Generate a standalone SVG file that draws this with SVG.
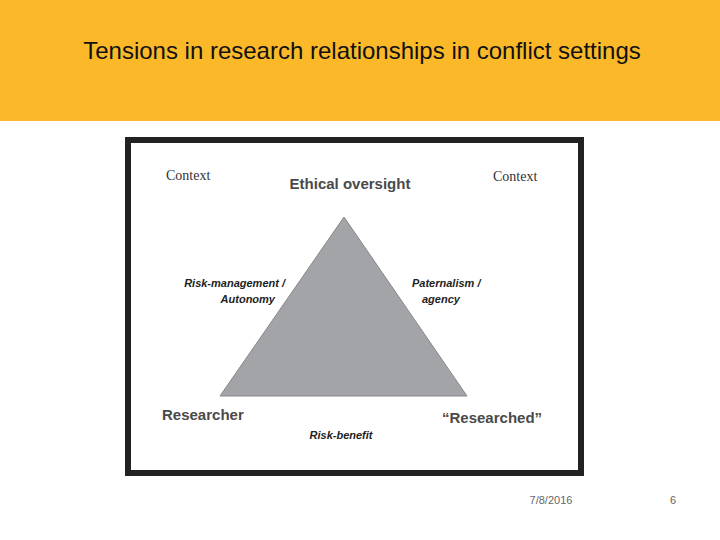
<svg xmlns="http://www.w3.org/2000/svg" width="720" height="540" viewBox="0 0 720 540">
<style>
.b{font-family:"Liberation Sans",Arial,sans-serif;font-weight:bold;fill:#4a4a4a}
.i{font-family:"Liberation Sans",Arial,sans-serif;font-weight:bold;font-style:italic;font-size:11px;fill:#222}
.c{font-family:"Liberation Serif","Times New Roman",serif;font-size:14px;fill:#333}
</style>
<rect width="720" height="540" fill="#fff"/>
<rect width="720" height="121" fill="#fbb929"/>
<text x="362" y="59" text-anchor="middle" font-family="Liberation Sans,Arial,sans-serif" font-size="24" fill="#111">Tensions in research relationships in conflict settings</text>
<rect x="128" y="140" width="453" height="333" fill="#fff" stroke="#222" stroke-width="6"/>
<g id="triangle"><polygon points="344,217 220,396 467,396" fill="#a3a4a8" stroke="#888" stroke-width="1"/></g>
<g id="labels">
<text class="c" x="166" y="180">Context</text>
<text class="c" x="493" y="181">Context</text>
<text class="b" x="350" y="189" font-size="15" text-anchor="middle">Ethical oversight</text>
<text class="b" x="162" y="420" font-size="15">Researcher</text>
<text class="b" x="442" y="423" font-size="15">“Researched”</text>
<text class="i" x="285" y="287" text-anchor="end">Risk-management /</text>
<text class="i" x="275" y="303" text-anchor="end">Autonomy</text>
<text class="i" x="412" y="287">Paternalism /</text>
<text class="i" x="422" y="303">agency</text>
<text class="i" x="341" y="439" text-anchor="middle">Risk-benefit</text>
</g>
<text x="551" y="504" text-anchor="middle" font-family="Liberation Sans,Arial,sans-serif" font-size="11" fill="#666">7/8/2016</text>
<text x="673" y="504" text-anchor="middle" font-family="Liberation Sans,Arial,sans-serif" font-size="11" fill="#666">6</text>
</svg>
